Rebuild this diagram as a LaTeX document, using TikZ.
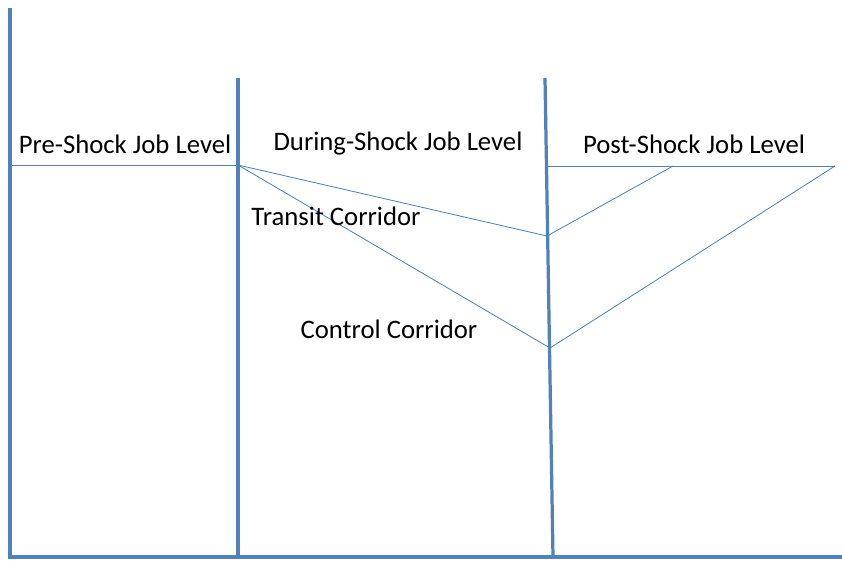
\documentclass[tikz,border=0pt]{standalone}
\usepackage{fontspec}
\setmainfont{Carlito}
\usetikzlibrary{positioning}
\definecolor{axisblue}{RGB}{79,129,189}

\begin{document}
\begin{tikzpicture}[x=0.025cm, y=-0.025cm,
    axis/.style={draw=axisblue, line width=2.8pt},
    divider/.style={draw=axisblue, line width=2.3pt},
    path line/.style={draw=axisblue, line width=0.6pt},
    lbl/.style={font=\fontsize{19}{22}\selectfont, inner sep=0pt}]
\useasboundingbox (0,0) rectangle (842,562);

% axes and phase dividers
\coordinate (top) at (10,8);
\coordinate (origin) at (10,557);
\coordinate (end) at (842,557);
\coordinate (d1-top) at (238,78);
\coordinate (d1-bot) at (238,557);
\coordinate (d2-top) at (545,78);
\coordinate (d2-bot) at (553,557);
\draw[axis] (top) -- (origin) -- (end);
\draw[divider] (d1-top) -- (d1-bot);
\draw[divider] (d2-top) -- (d2-bot);

% job levels
\coordinate (pre-start) at (10,165);
\coordinate (shock) at (238,165);
\coordinate (transit-low) at (547,236);
\coordinate (control-low) at (550,348);
\coordinate (post-start) at (547,166);
\coordinate (transit-back) at (673,166);
\coordinate (control-back) at (835,166);

\draw[path line] (pre-start) -- (shock);
\draw[path line] (shock) -- (transit-low) -- (transit-back);
\draw[path line] (shock) -- (control-low) -- (control-back);
\draw[path line] (post-start) -- (control-back);

\path (125,144) node[lbl] (pre) {Pre-Shock Job Level};
\path (398,144) node[lbl] (during) {During-Shock Job Level};
\path (694,144) node[lbl] (post) {Post-Shock Job Level};
\path (336,216) node[lbl] (transit) {Transit Corridor};
\path (389,329) node[lbl] (control) {Control Corridor};
\end{tikzpicture}
\end{document}
